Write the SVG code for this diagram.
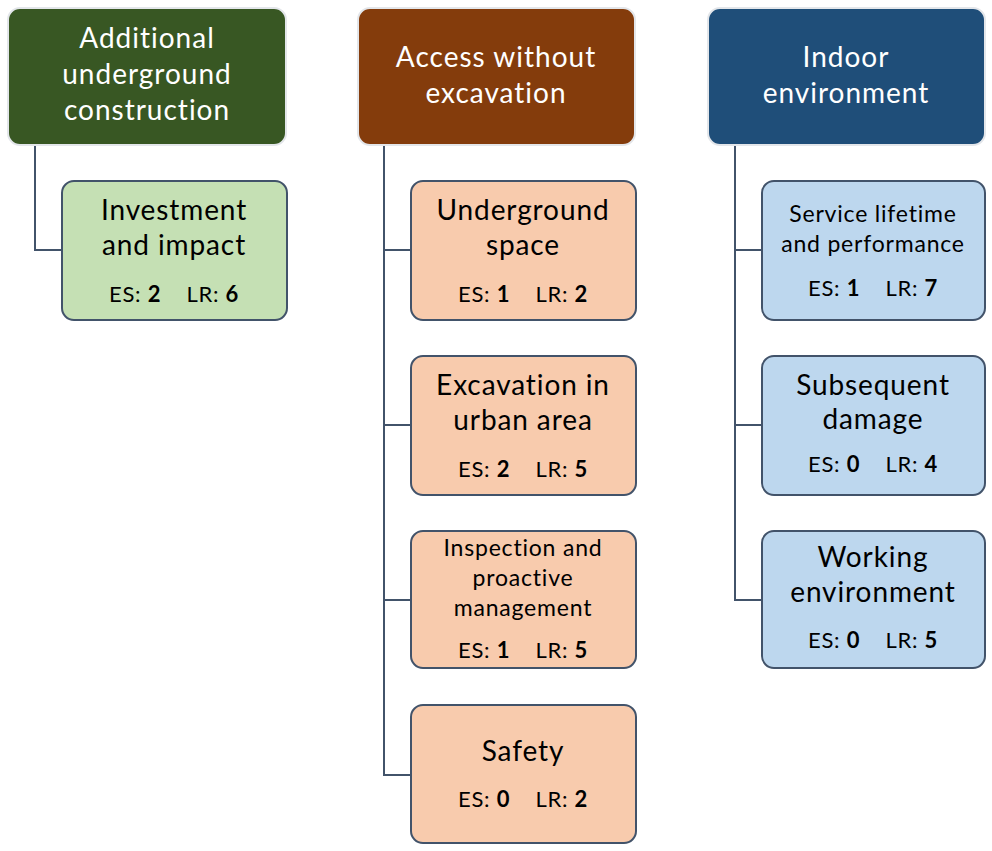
<svg xmlns="http://www.w3.org/2000/svg" width="992" height="851" viewBox="0 0 992 851">
<style>
.hd{stroke:#e3e6ea;stroke-width:2}
.ch{stroke:#42536a;stroke-width:2}
.g1{fill:#385723}.g2{fill:#c5e0b4}
.b1{fill:#843c0c}.b2{fill:#f8cbad}
.u1{fill:#1f4e79}.u2{fill:#bdd7ee}
text{font-family:Lato,"Open Sans","Liberation Sans",sans-serif;text-anchor:middle}
.ht{fill:#ffffff;font-size:28px;letter-spacing:1px}
.ct{fill:#000000;font-size:28px;letter-spacing:0.9px}
.cs{fill:#000000;font-size:23px;letter-spacing:0.8px}
.es{fill:#000000;font-size:22px;letter-spacing:0.7px}
.bd{font-weight:bold}
.ln{fill:none;stroke:#42536a;stroke-width:2}
</style>
<rect width="992" height="851" fill="#ffffff"/>
<g id="connectors">
<path class="ln" d="M35 145 V250 H62"/>
<path class="ln" d="M384 145 V775 H411 M384 250 H411 M384 425 H411 M384 600 H411"/>
<path class="ln" d="M735 145 V600 H762 M735 250 H762 M735 425 H762"/>
</g>
<g id="h1"><rect class="hd g1" x="8" y="8" width="278" height="137" rx="12"/>
<text class="ht" x="147" y="48">Additional</text><text class="ht" x="147" y="84">underground</text><text class="ht" x="147" y="120">construction</text></g>
<g id="h2"><rect class="hd b1" x="358" y="8" width="277" height="137" rx="12"/>
<text class="ht" x="496" y="67">Access without</text><text class="ht" x="496" y="103">excavation</text></g>
<g id="h3"><rect class="hd u1" x="708" y="8" width="277" height="137" rx="12"/>
<text class="ht" x="846" y="67">Indoor</text><text class="ht" x="846" y="103">environment</text></g>

<g id="c1"><rect class="ch g2" x="62" y="181" width="225" height="139" rx="12"/>
<text class="ct" x="174" y="220">Investment</text><text class="ct" x="174" y="255">and impact</text>
<text class="es" x="174" y="302" xml:space="preserve">ES: <tspan class="bd">2</tspan>    LR: <tspan class="bd">6</tspan></text></g>

<g id="m1"><rect class="ch b2" x="411" y="181" width="225" height="139" rx="12"/>
<text class="ct" x="523" y="220">Underground</text><text class="ct" x="523" y="255">space</text>
<text class="es" x="523" y="302" xml:space="preserve">ES: <tspan class="bd">1</tspan>    LR: <tspan class="bd">2</tspan></text></g>
<g id="m2"><rect class="ch b2" x="411" y="356" width="225" height="139" rx="12"/>
<text class="ct" x="523" y="395">Excavation in</text><text class="ct" x="523" y="430">urban area</text>
<text class="es" x="523" y="477" xml:space="preserve">ES: <tspan class="bd">2</tspan>    LR: <tspan class="bd">5</tspan></text></g>
<g id="m3"><rect class="ch b2" x="411" y="531" width="225" height="137" rx="12"/>
<text class="cs" x="523" y="556">Inspection and</text><text class="cs" x="523" y="586">proactive</text><text class="cs" x="523" y="616">management</text>
<text class="es" x="523" y="658" xml:space="preserve">ES: <tspan class="bd">1</tspan>    LR: <tspan class="bd">5</tspan></text></g>
<g id="m4"><rect class="ch b2" x="411" y="705" width="225" height="138" rx="12"/>
<text class="ct" x="523" y="761">Safety</text>
<text class="es" x="523" y="807" xml:space="preserve">ES: <tspan class="bd">0</tspan>    LR: <tspan class="bd">2</tspan></text></g>

<g id="r1"><rect class="ch u2" x="762" y="181" width="223" height="139" rx="12"/>
<text class="cs" x="873" y="222">Service lifetime</text><text class="cs" x="873" y="252">and performance</text>
<text class="es" x="873" y="296" xml:space="preserve">ES: <tspan class="bd">1</tspan>    LR: <tspan class="bd">7</tspan></text></g>
<g id="r2"><rect class="ch u2" x="762" y="356" width="223" height="139" rx="12"/>
<text class="ct" x="873" y="395">Subsequent</text><text class="ct" x="873" y="429">damage</text>
<text class="es" x="873" y="472" xml:space="preserve">ES: <tspan class="bd">0</tspan>    LR: <tspan class="bd">4</tspan></text></g>
<g id="r3"><rect class="ch u2" x="762" y="531" width="223" height="137" rx="12"/>
<text class="ct" x="873" y="567">Working</text><text class="ct" x="873" y="602">environment</text>
<text class="es" x="873" y="648" xml:space="preserve">ES: <tspan class="bd">0</tspan>    LR: <tspan class="bd">5</tspan></text></g>
</svg>
